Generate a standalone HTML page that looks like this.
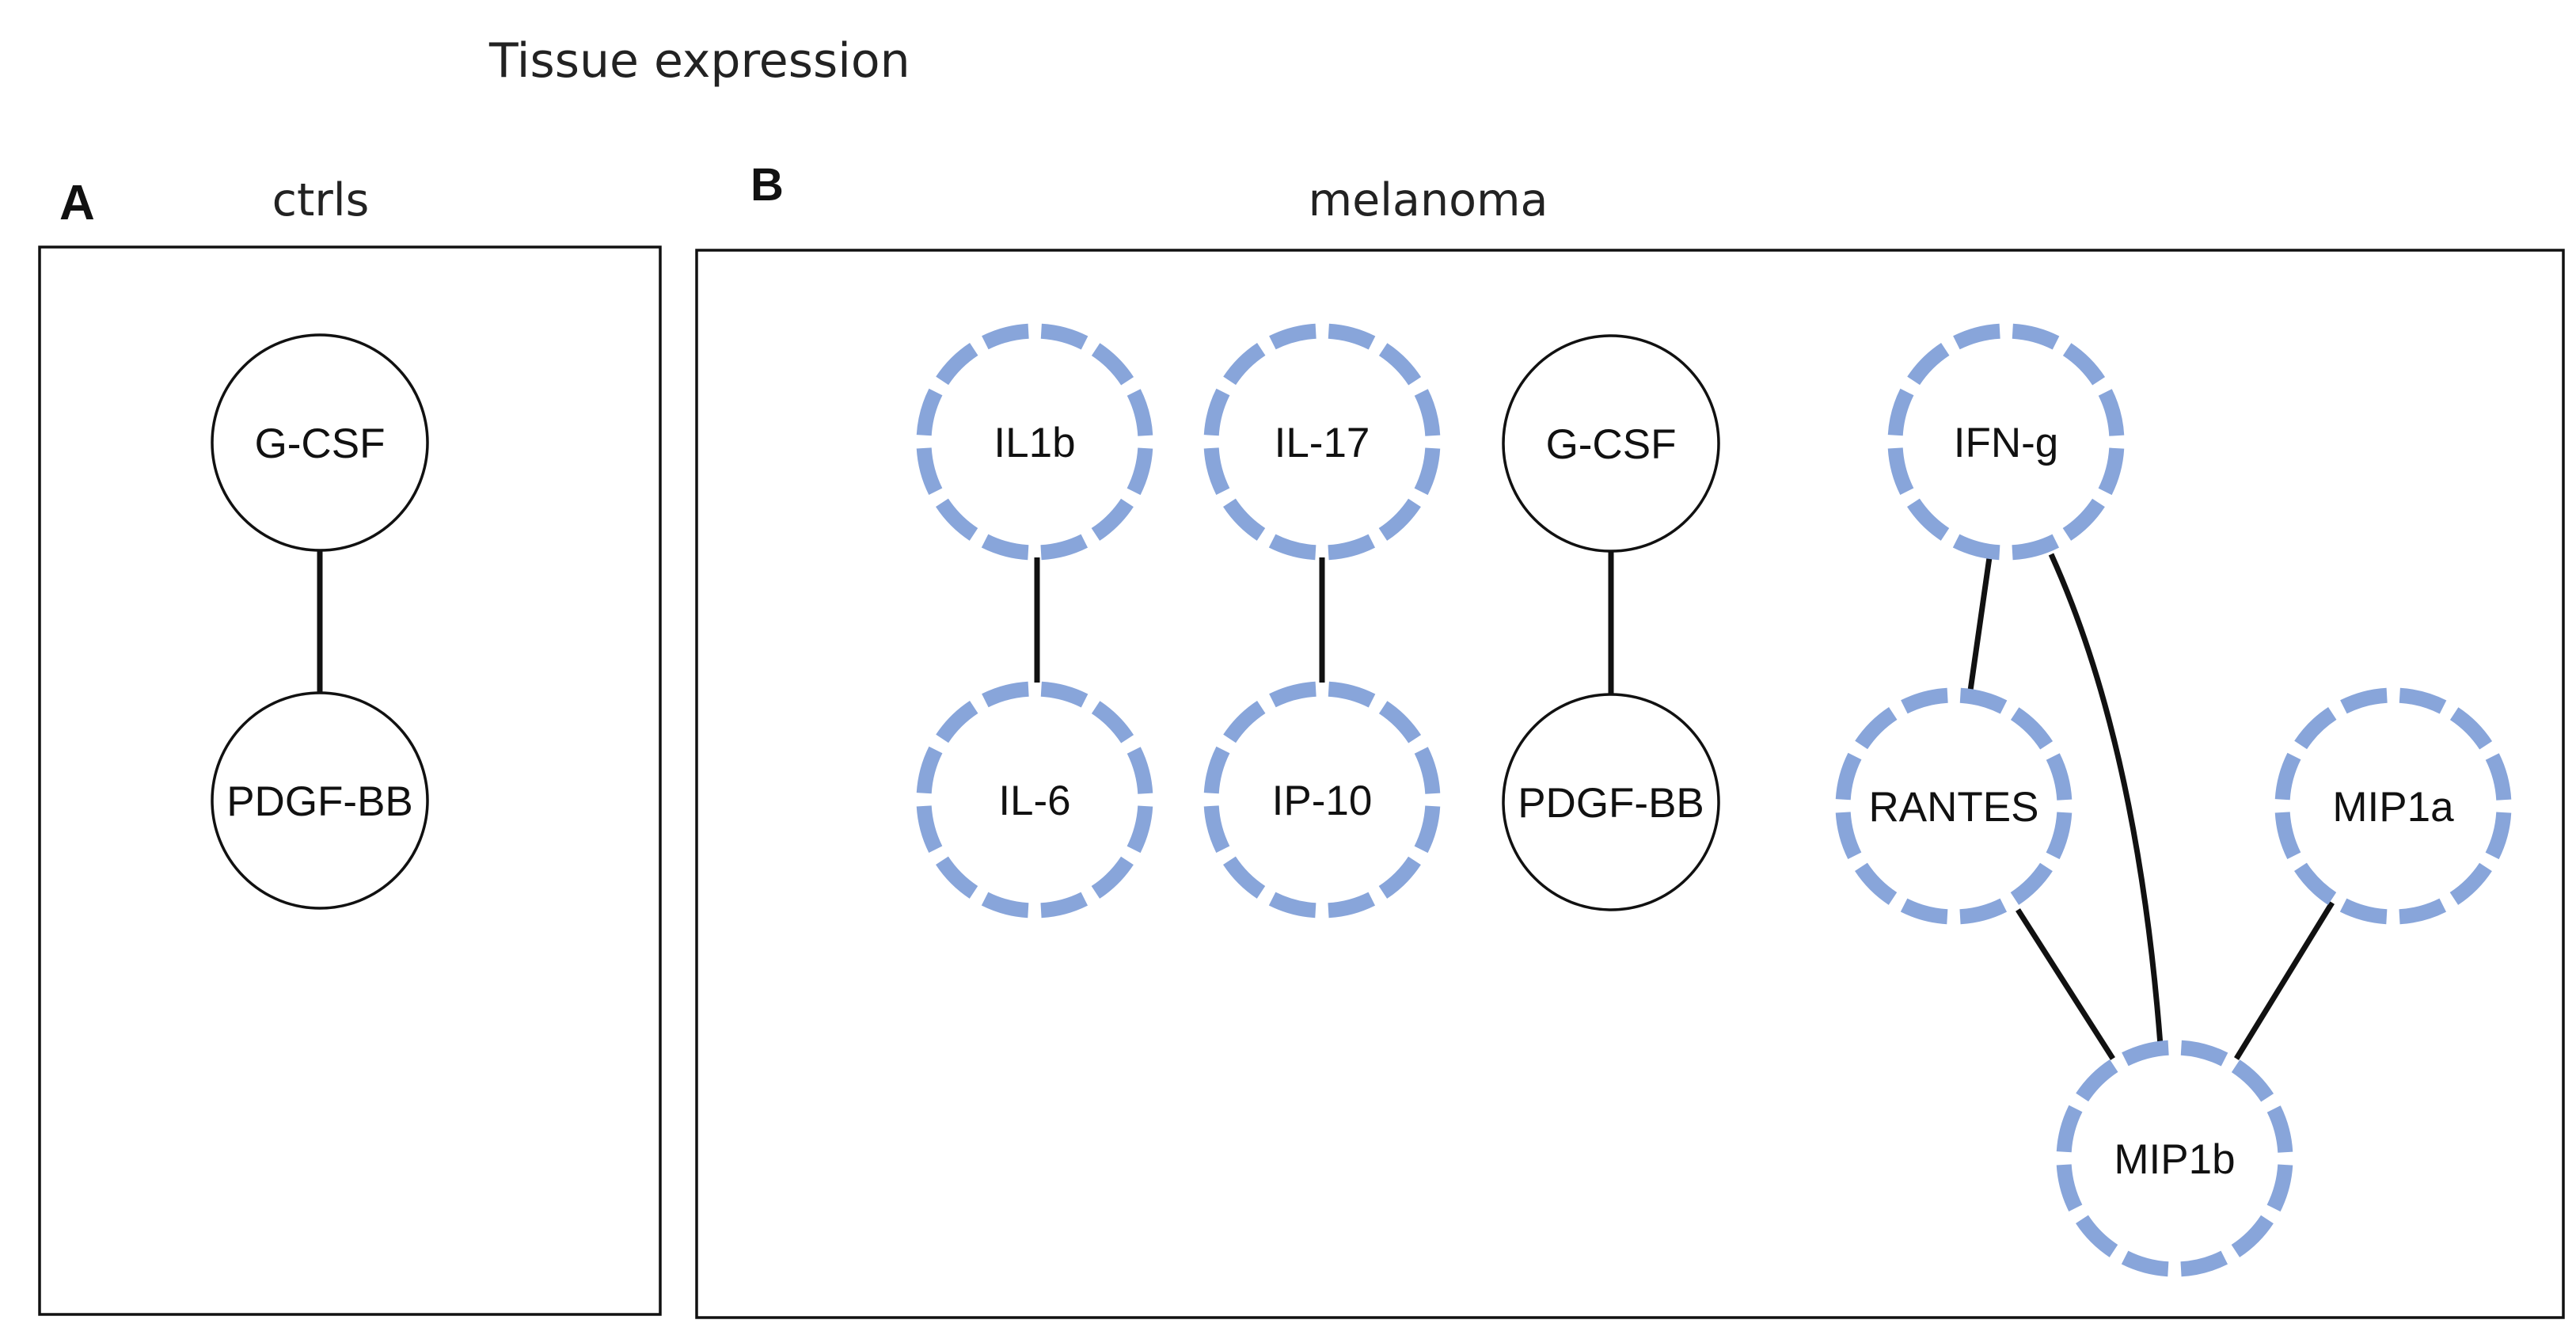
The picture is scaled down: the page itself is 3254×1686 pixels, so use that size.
<!DOCTYPE html>
<html><head><meta charset="utf-8"><style>
html,body{margin:0;padding:0;background:#fff;}
svg{display:block;}
text{font-family:"Liberation Sans",Arial,sans-serif;}
</style></head><body>
<svg width="3254" height="1686" viewBox="0 0 3254 1686" xmlns="http://www.w3.org/2000/svg">
<defs>
<style>
.d{fill:#fff;stroke:#88a5da;stroke-width:19;stroke-dasharray:57 16.3;stroke-dashoffset:65.15;}
.s{fill:#fff;stroke:#111;stroke-width:3.5;}
.e{stroke:#111;stroke-width:7;fill:none;}
.n{font-size:53px;text-anchor:middle;fill:#111;}
</style>
</defs>
<text x="618" y="97" fill="#222" style="font-family:'DejaVu Sans','Liberation Sans',sans-serif;font-size:60px">Tissue expression</text>
<text x="75" y="277" font-size="62" font-weight="bold" fill="#111">A</text>
<text x="948" y="253" font-size="58" font-weight="bold" fill="#111">B</text>
<text x="405" y="272" text-anchor="middle" fill="#222" style="font-family:'DejaVu Sans','Liberation Sans',sans-serif;font-size:57px">ctrls</text>
<text x="1804" y="272" text-anchor="middle" fill="#222" style="font-family:'DejaVu Sans','Liberation Sans',sans-serif;font-size:57px">melanoma</text>

<rect x="50" y="312" width="784" height="1348" fill="none" stroke="#111" stroke-width="3.5"/>
<rect x="880" y="316" width="2358" height="1348" fill="none" stroke="#111" stroke-width="3.5"/>

<line class="e" x1="404" y1="696" x2="404" y2="876"/>
<line class="e" x1="1310" y1="704" x2="1310" y2="862"/>
<line class="e" x1="1670" y1="704" x2="1670" y2="862"/>
<line class="e" x1="2035" y1="696" x2="2035" y2="876"/>
<line class="e" x1="2513" y1="704" x2="2489" y2="872"/>
<path class="e" d="M2591 700 Q2700 940 2729 1320"/>
<line class="e" x1="2549" y1="1149" x2="2669" y2="1337"/>
<line class="e" x1="2946" y1="1140" x2="2825" y2="1337"/>

<circle class="s" cx="404" cy="559" r="136"/>
<text class="n" x="404" y="578">G-CSF</text>
<circle class="s" cx="404" cy="1011" r="136"/>
<text class="n" x="404" y="1030">PDGF-BB</text>

<circle class="d" cx="1307" cy="558" r="140"/>
<text class="n" x="1307" y="577">IL1b</text>
<circle class="d" cx="1307" cy="1010" r="140"/>
<text class="n" x="1307" y="1029">IL-6</text>
<circle class="d" cx="1670" cy="558" r="140"/>
<text class="n" x="1670" y="577">IL-17</text>
<circle class="d" cx="1670" cy="1010" r="140"/>
<text class="n" x="1670" y="1029">IP-10</text>
<circle class="s" cx="2035" cy="560" r="136"/>
<text class="n" x="2035" y="579">G-CSF</text>
<circle class="s" cx="2035" cy="1013" r="136"/>
<text class="n" x="2035" y="1032">PDGF-BB</text>

<circle class="d" cx="2534" cy="558" r="140"/>
<text class="n" x="2534" y="577">IFN-g</text>
<circle class="d" cx="2468" cy="1018" r="140"/>
<text class="n" x="2468" y="1037">RANTES</text>
<circle class="d" cx="3023" cy="1018" r="140"/>
<text class="n" x="3023" y="1037">MIP1a</text>
<circle class="d" cx="2747" cy="1463" r="140"/>
<text class="n" x="2747" y="1482">MIP1b</text>
</svg>
</body></html>
